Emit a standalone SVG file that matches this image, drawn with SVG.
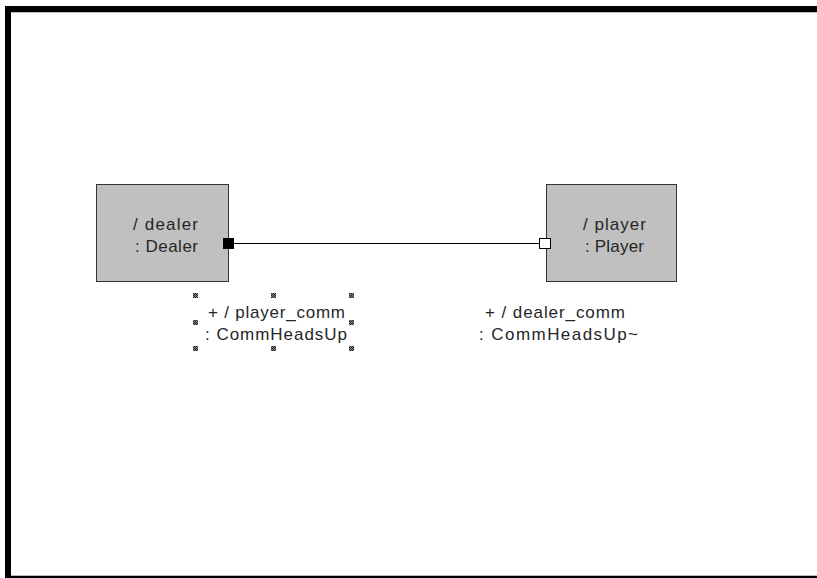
<svg xmlns="http://www.w3.org/2000/svg" width="817" height="578" viewBox="0 0 817 578">
  <style>
    .part { fill: #c0c0c0; stroke: #333333; stroke-width: 1; }
    .lbl { font-family: "Liberation Sans", Arial, sans-serif; font-size: 17px; fill: #262626; }
  </style>
  <defs>
    <pattern id="hatch" width="2" height="2" patternUnits="userSpaceOnUse">
      <rect width="2" height="2" fill="#888"/>
      <rect width="1" height="1" fill="#222"/>
      <rect x="1" y="1" width="1" height="1" fill="#222"/>
    </pattern>
  </defs>
  <rect width="817" height="578" fill="#ffffff"/>

  <!-- diagram frame -->
  <g id="frame">
    <rect x="5" y="6" width="812" height="6" fill="#000"/>
    <rect x="5" y="6" width="6" height="572" fill="#000"/>
    <rect x="5" y="576" width="812" height="2" fill="#000"/>
    <line x1="11" y1="12.5" x2="817" y2="12.5" stroke="#bbbbbb" stroke-width="1"/>
    <line x1="11" y1="575.5" x2="817" y2="575.5" stroke="#bbbbbb" stroke-width="1"/>
  </g>

  <!-- connectors -->
  <g id="connectors">
    <line x1="233" y1="243.5" x2="540" y2="243.5" stroke="#000" stroke-width="1"/>
  </g>

  <g id="dealer">
    <rect class="part" x="96.5" y="184.5" width="132" height="97"/>
    <text class="lbl" x="133" y="230" textLength="65" lengthAdjust="spacing">/ dealer</text>
    <text class="lbl" x="135" y="252" textLength="63" lengthAdjust="spacing">: Dealer</text>
    <rect id="dealer-port" x="223.5" y="238.5" width="10" height="10" fill="#000" stroke="#000"/>
  </g>

  <g id="player">
    <rect class="part" x="546.5" y="184.5" width="130" height="97"/>
    <text class="lbl" x="583" y="230" textLength="63" lengthAdjust="spacing">/ player</text>
    <text class="lbl" x="585" y="252" textLength="59" lengthAdjust="spacing">: Player</text>
    <rect id="player-port" x="539.5" y="238.5" width="11" height="10" fill="#fff" stroke="#000"/>
  </g>

  <g id="player_comm">
    <text class="lbl" x="208" y="318" textLength="137" lengthAdjust="spacing">+ / player_comm</text>
    <text class="lbl" x="205" y="340" textLength="142" lengthAdjust="spacing">: CommHeadsUp</text>
    <g fill="url(#hatch)">
      <rect x="193" y="293" width="5" height="5"/>
      <rect x="271" y="293" width="5" height="5"/>
      <rect x="349" y="293" width="5" height="5"/>
      <rect x="193" y="320" width="5" height="5"/>
      <rect x="349" y="320" width="5" height="5"/>
      <rect x="193" y="346" width="5" height="5"/>
      <rect x="271" y="346" width="5" height="5"/>
      <rect x="349" y="346" width="5" height="5"/>
    </g>
  </g>

  <g id="dealer_comm">
    <text class="lbl" x="485" y="318" textLength="140" lengthAdjust="spacing">+ / dealer_comm</text>
    <text class="lbl" x="479" y="340" textLength="159" lengthAdjust="spacing">: CommHeadsUp~</text>
  </g>
</svg>
